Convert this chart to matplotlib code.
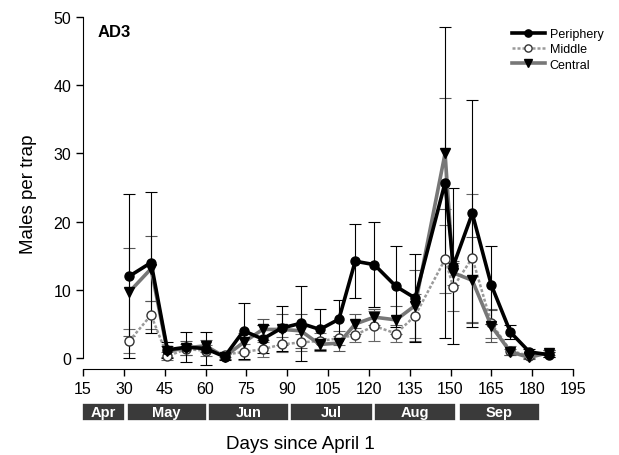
import numpy as np
import matplotlib.pyplot as plt
from matplotlib.patches import Rectangle
from matplotlib.transforms import blended_transform_factory

plt.rcParams['font.family'] = ['Liberation Sans', 'DejaVu Sans']

# sampling days (days since April 1)
days = [32, 40, 46, 53, 60, 67, 74, 81, 88, 95, 102, 109, 115, 122,
        130, 137, 148, 151, 158, 165, 172, 179, 186]

# mean males per trap
periphery = [12.0, 14.0, 1.2, 1.6, 1.4, 0.2, 4.0, 2.8, 4.4, 5.1, 4.2, 5.7,
             14.2, 13.7, 10.5, 8.8, 25.7, 13.5, 21.2, 10.7, 3.8, 0.9, 0.5]
middle = [2.5, 6.3, 0.3, 1.3, 1.1, 0.5, 0.9, 1.3, 2.0, 2.3, 2.5, 2.9,
          3.4, 4.7, 3.6, 6.2, 14.5, 10.4, 14.7, 5.1, 1.1, 0.3, 0.7]
central = [9.7, 13.1, 1.0, 1.5, 1.8, 0.2, 2.3, 4.2, 4.2, 4.0, 2.0, 2.2,
           5.0, 6.0, 5.6, 7.7, 30.0, 12.5, 11.4, 4.7, 0.9, 0.1, 0.8]

# standard errors
periphery_se = [12.0, 10.3, 1.2, 2.2, 2.4, 0.5, 4.1, 2.0, 3.3, 5.5, 3.0, 2.8,
                5.4, 6.2, 6.0, 6.4, 22.8, 11.5, 16.7, 5.7, 1.0, 0.5, 0.4]
middle_se = [1.8, 2.0, 0.6, 0.8, 0.8, 0.4, 1.2, 1.1, 1.1, 1.3, 1.2, 1.0,
             1.0, 2.2, 1.2, 3.2, 5.0, 3.5, 9.4, 2.1, 0.6, 0.3, 0.5]
central_se = [6.5, 4.8, 0.8, 1.0, 0.9, 0.4, 1.4, 1.6, 2.3, 2.5, 1.0, 1.1,
              1.4, 1.2, 2.0, 5.2, 8.2, 1.8, 6.3, 2.3, 0.5, 0.2, 0.4]

# month bands on the day axis
months = ['Apr', 'May', 'Jun', 'Jul', 'Aug', 'Sep']
month_start = [14.5, 31, 61, 91, 122, 153]
month_end = [30.5, 60.5, 90.5, 121.5, 152, 183]

fig = plt.figure(figsize=(6.19, 4.56), dpi=100)
ax = fig.add_axes([0.1341, 0.1886, 0.7916, 0.7719])

# middle
ax.errorbar(days, middle, yerr=middle_se, fmt='none', ecolor='#666666',
            elinewidth=0.8, capsize=4, capthick=0.8, zorder=1)
ax.plot(days, middle, color='#9a9a9a', lw=1.8, ls=(0, (1.2, 0.8)),
        marker='o', ms=6.5, mfc='white', mec='#333333', mew=1.0,
        label='Middle', zorder=3)

# central
ax.errorbar(days, central, yerr=central_se, fmt='none', ecolor='#555555',
            elinewidth=0.8, capsize=4, capthick=0.8, zorder=1)
ax.plot(days, central, color='#777777', lw=2.6, marker='v', ms=7,
        mfc='black', mec='black', label='Central', zorder=4)

# periphery
ax.errorbar(days, periphery, yerr=periphery_se, fmt='none', ecolor='black',
            elinewidth=0.8, capsize=4, capthick=0.8, zorder=2)
ax.plot(days, periphery, color='black', lw=2.6, marker='o', ms=6.5,
        mfc='black', mec='black', label='Periphery', zorder=5)

ax.set_xlim(15, 195)
ax.set_ylim(-1.6, 50)
ax.set_xticks(np.arange(15, 196, 15))
ax.set_yticks(np.arange(0, 51, 10))
ax.tick_params(axis='both', labelsize=11.5, direction='out', length=5,
               width=1)
ax.spines['top'].set_visible(False)
ax.spines['right'].set_visible(False)
ax.spines['left'].set_bounds(0, 50)
ax.spines['bottom'].set_bounds(15, 195)

ax.set_ylabel('Males per trap', fontsize=13.5, labelpad=12)
fig.text(0.485, 0.006, 'Days since April 1', fontsize=13.5, ha='center',
         va='bottom')
ax.text(0.03, 0.96, 'AD3', transform=ax.transAxes, fontsize=12,
        fontweight='bold', ha='left', va='center')

# legend order: Periphery, Middle, Central
h, l = ax.get_legend_handles_labels()
order = [l.index('Periphery'), l.index('Middle'), l.index('Central')]
ax.legend([h[i] for i in order], [l[i] for i in order], loc='upper right',
          bbox_to_anchor=(1.085, 1.0), frameon=False, fontsize=9,
          handlelength=2.6, handletextpad=0.4, labelspacing=0.25,
          markerscale=0.8)

# month boxes below the axis
trans = blended_transform_factory(ax.transData, fig.transFigure)
for name, s, e in zip(months, month_start, month_end):
    ax.add_patch(Rectangle((s, 0.0746), e - s, 0.0394, transform=trans,
                           facecolor='#3a3a3a', edgecolor='white',
                           lw=1.2, clip_on=False))
    ax.text((s + e) / 2, 0.094, name, transform=trans, color='white',
            fontsize=10.5, fontweight='bold', ha='center', va='center')

fig.savefig('out.png', dpi=100)
